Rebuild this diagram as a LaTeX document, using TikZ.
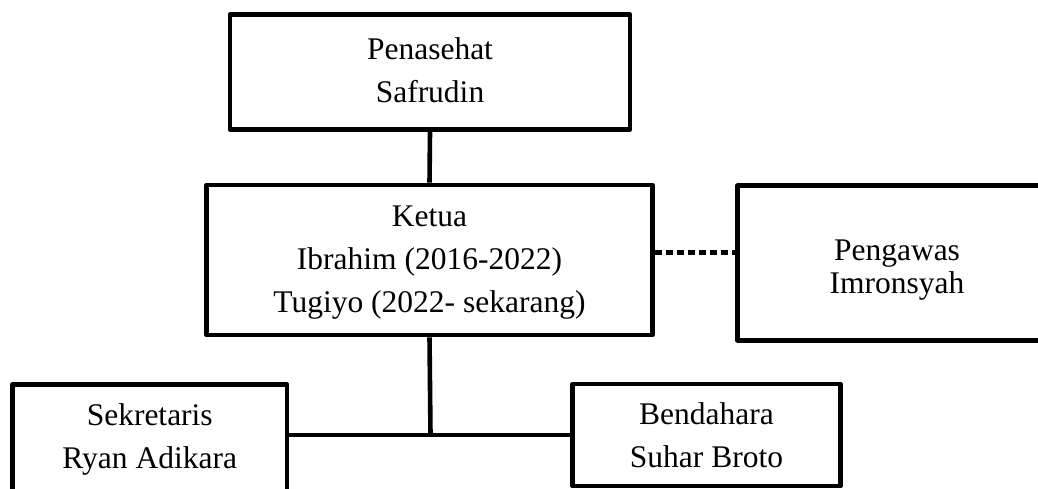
\documentclass[tikz,border=0pt]{standalone}
\usepackage{fontspec}
\setmainfont{Liberation Serif}
\begin{document}
\begin{tikzpicture}[x=1pt,y=-1pt,
  box/.style={draw=black, line width=4.6pt, line join=round, inner sep=0pt, align=center,
    text depth=0pt, font=\fontsize{31.5}{43}\selectfont},
  conn/.style={draw=black, line width=4.6pt},
  dotconn/.style={draw=black, line width=4.6pt, dash pattern=on 7pt off 4pt}]
\clip (0,0) rectangle (1038,488);
\node[box, minimum width=400pt, minimum height=115pt, text height=60pt] (pen) at (430,72) {Penasehat\\Safrudin};
\node[box, minimum width=446pt, minimum height=150pt, text height=104pt] (ket) at (429.5,260) {Ketua\\Ibrahim (2016-2022)\\Tugiyo (2022- sekarang)};
\node[box, minimum width=319pt, minimum height=154.5pt, text height=60.6pt, font=\fontsize{31.5}{33}\selectfont] (peng) at (897,263) {Pengawas\\Imronsyah};
\node[box, minimum width=274.5pt, minimum height=108pt, text height=59pt] (sek) at (149.75,438.5) {Sekretaris\\Ryan Adikara};
\node[box, minimum width=268pt, minimum height=102pt, text height=64pt] (ben) at (706.5,435) {Bendahara\\Suhar Broto};
\coordinate (j) at (430.5,435);
\draw[conn] (pen.south) -- (ket.north);
\draw[dotconn] ([yshift=7.5pt]ket.east) -- ([yshift=7.5pt]ket.east -| peng.west);
\draw[conn] (ket.south) -- (j);
\draw[conn] (sek.east |- ben.west) -- (ben.west);
\end{tikzpicture}
\end{document}
